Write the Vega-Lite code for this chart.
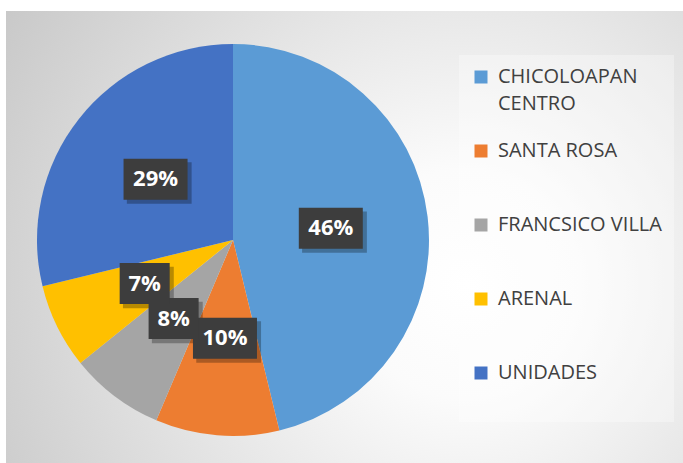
{
  "$schema": "https://vega.github.io/schema/vega-lite/v6.json",
  "width": 683,
  "height": 463,
  "autosize": {"type": "fit", "contains": "padding"},
  "padding": {"left": 6, "top": 11, "right": 0, "bottom": 0},
  "background": "white",
  "config": {"style": {"guide-label": {"lineHeight": 27}}},
  "view": {
    "stroke": null,
    "fill": {
      "gradient": "radial",
      "x1": 0.68, "y1": 0.57, "r1": 0,
      "x2": 0.68, "y2": 0.57, "r2": 0.85,
      "stops": [
        {"offset": 0, "color": "#ffffff"},
        {"offset": 0.2, "color": "#fbfbfb"},
        {"offset": 1, "color": "#c4c4c4"}
      ]
    }
  },
  "data": {
    "values": [
      {"zona": "CHICOLOAPAN CENTRO", "valor": 0.462, "i": 1},
      {"zona": "SANTA ROSA", "valor": 0.102, "i": 2},
      {"zona": "FRANCSICO VILLA", "valor": 0.078, "i": 3},
      {"zona": "ARENAL", "valor": 0.070, "i": 4},
      {"zona": "UNIDADES", "valor": 0.288, "i": 5}
    ]
  },
  "transform": [
    {"joinaggregate": [{"op": "sum", "field": "valor", "as": "total"}]},
    {"window": [{"op": "sum", "field": "valor", "as": "cum"}], "sort": [{"field": "i", "order": "ascending"}], "frame": [null, 0]},
    {"calculate": "2 * PI * (datum.cum - datum.valor / 2) / datum.total", "as": "mid"},
    {"calculate": "98.5 * sin(datum.mid)", "as": "bx"},
    {"calculate": "98.5 * cos(datum.mid)", "as": "by"}
  ],
  "layer": [
    {
      "mark": {"type": "arc", "outerRadius": 196, "stroke": null},
      "encoding": {
        "x": {"datum": 0, "type": "quantitative", "scale": {"domain": [-227, 450], "nice": false, "zero": false}, "axis": null},
        "y": {"datum": 0, "type": "quantitative", "scale": {"domain": [-223, 229], "nice": false, "zero": false}, "axis": null},
        "theta": {"field": "valor", "type": "quantitative", "stack": true},
        "order": {"field": "i", "type": "quantitative", "sort": "ascending"},
        "color": {
          "field": "zona",
          "type": "nominal",
          "scale": {
            "domain": ["CHICOLOAPAN CENTRO", "SANTA ROSA", "FRANCSICO VILLA", "ARENAL", "UNIDADES"],
            "range": ["#5B9BD5", "#ED7D31", "#A5A5A5", "#FFC000", "#4472C4"]
          },
          "legend": {
            "title": null,
            "orient": "none",
            "legendX": 453,
            "legendY": 44,
            "padding": 12,
            "fillColor": "rgba(255,255,255,0.32)",
            "symbolType": "square",
            "symbolSize": 169,
            "symbolStrokeWidth": 0,
            "labelFont": "Open Sans",
            "labelFontSize": 20,
            "labelColor": "#404040",
            "labelOffset": 7,
            "labelLimit": 300,
            "rowPadding": 27,
            "labelExpr": "datum.label == 'CHICOLOAPAN CENTRO' ? ['CHICOLOAPAN', 'CENTRO'] : [datum.label, '']",
            "encode": {"labels": {"enter": {"lineHeight": {"value": 27}}, "update": {"lineHeight": {"value": 27}}}}
          }
        }
      }
    },
    {
      "mark": {"type": "point", "filled": true, "color": "#000000", "opacity": 0.28, "size": 1681, "strokeWidth": 0},
      "encoding": {
        "x": {"field": "bx", "type": "quantitative"},
        "y": {"field": "by", "type": "quantitative"},
        "shape": {
          "condition": {"test": "datum.valor >= 0.095", "value": "M-1.4,-0.82H1.76V1.2H-1.4Z"},
          "value": "M-1.06,-0.82H1.42V1.2H-1.06Z"
        }
      }
    },
    {
      "mark": {"type": "point", "filled": true, "color": "#3d3d3d", "opacity": 1, "size": 1681, "strokeWidth": 0},
      "encoding": {
        "x": {"field": "bx", "type": "quantitative"},
        "y": {"field": "by", "type": "quantitative"},
        "shape": {
          "condition": {"test": "datum.valor >= 0.095", "value": "M-1.561,-1H1.561V1H-1.561Z"},
          "value": "M-1.22,-1H1.22V1H-1.22Z"
        }
      }
    },
    {
      "mark": {"type": "text", "font": "Open Sans", "fontSize": 22, "fontWeight": "bold", "color": "#ffffff", "align": "center", "baseline": "middle"},
      "encoding": {
        "x": {"field": "bx", "type": "quantitative"},
        "y": {"field": "by", "type": "quantitative"},
        "text": {"field": "valor", "type": "quantitative", "format": ".0%"}
      }
    }
  ]
}
